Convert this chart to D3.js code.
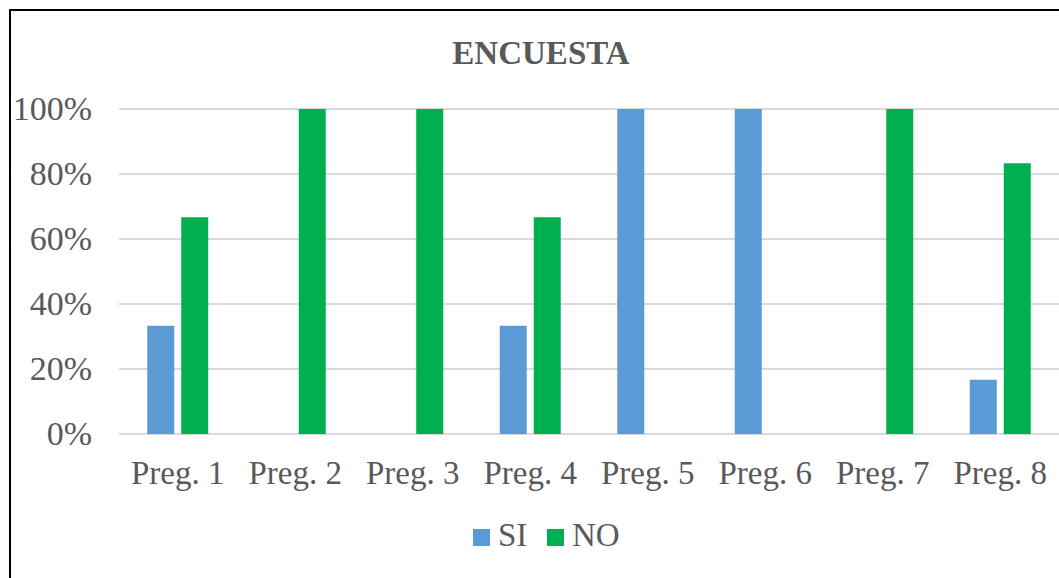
<!DOCTYPE html>
<html>
<head>
<meta charset="utf-8">
<script src="https://cdn.jsdelivr.net/npm/d3@7"></script>
<style>
body { margin: 0; background: #fff; }
svg { display: block; }
</style>
</head>
<body>
<script>
// datos de la encuesta
var preguntas = ["Preg. 1", "Preg. 2", "Preg. 3", "Preg. 4", "Preg. 5", "Preg. 6", "Preg. 7", "Preg. 8"];
var si = [0.333, 0, 0, 0.333, 1, 1, 0, 0.167];
var no = [0.667, 1, 1, 0.667, 0, 0, 1, 0.833];
var series = ["SI", "NO"];
var colores = ["#5b9bd5", "#00b050"];
var ticks = [0, 0.2, 0.4, 0.6, 0.8, 1];

var width = 1059, height = 578;
var fuente = "'Liberation Serif', 'Times New Roman', serif";

var svg = d3.select("body").append("svg")
	.attr("width", width)
	.attr("height", height)

// marco del grafico
svg.append("rect")
	.attr("x", 10).attr("y", 10)
	.attr("width", 1100).attr("height", 640)
	.attr("fill", "#fff")
	.attr("stroke", "#000")
	.attr("stroke-width", 2)

var x = d3.scaleBand()
	.domain(preguntas)
	.range([119, 1059])

var y = d3.scaleLinear()
	.domain([0, 1])
	.range([434, 109])

// lineas de cuadricula
svg.append("g")
	.selectAll("line")
	.data(ticks)
	.join("line")
	.attr("x1", 119)
	.attr("x2", 1061)
	.attr("y1", function(d){ return y(d); })
	.attr("y2", function(d){ return y(d); })
	.attr("stroke", "#d9d9d9")
	.attr("stroke-width", 2)

// etiquetas eje y
svg.append("g")
	.selectAll("text")
	.data(ticks)
	.join("text")
	.attr("x", 92)
	.attr("y", function(d){ return y(d) + 11; })
	.attr("text-anchor", "end")
	.attr("font-family", fuente)
	.attr("font-size", 34)
	.attr("fill", "#595959")
	.text(function(d){ return d3.format(".0%")(d); })

var barW = 27, gap = 7;
var sub = d3.scaleOrdinal().domain(series).range([-(barW + gap / 2), gap / 2]);

var datos = [];
preguntas.forEach(function(p, i){
	datos.push({ p: p, s: "SI", v: si[i] });
	datos.push({ p: p, s: "NO", v: no[i] });
});

svg.append("g")
	.selectAll("rect")
	.data(datos.filter(function(d){ return d.v > 0; }))
	.join("rect")
	.attr("x", function(d){ return x(d.p) + x.bandwidth() / 2 + sub(d.s); })
	.attr("y", function(d){ return y(d.v); })
	.attr("width", barW)
	.attr("height", function(d){ return y(0) - y(d.v); })
	.attr("fill", function(d){ return colores[series.indexOf(d.s)]; })

// etiquetas eje x
svg.append("g")
	.selectAll("text")
	.data(preguntas)
	.join("text")
	.attr("x", function(d){ return x(d) + x.bandwidth() / 2; })
	.attr("y", 484)
	.attr("text-anchor", "middle")
	.attr("font-family", fuente)
	.attr("font-size", 33)
	.attr("fill", "#595959")
	.text(function(d){ return d; })

// titulo
svg.append("text")
	.attr("x", 541)
	.attr("y", 64)
	.attr("text-anchor", "middle")
	.attr("font-family", fuente)
	.attr("font-size", 33)
	.attr("font-weight", "bold")
	.attr("fill", "#595959")
	.text("ENCUESTA")

// leyenda
var leyX = [473, 547];
var ley = svg.append("g")
	.selectAll("g")
	.data(series)
	.join("g")
	.attr("transform", function(d, i){ return "translate(" + leyX[i] + ",529)"; })

ley.append("rect")
	.attr("width", 17).attr("height", 17)
	.attr("fill", function(d, i){ return colores[i]; })

ley.append("text")
	.attr("x", 25)
	.attr("y", 17)
	.attr("font-family", fuente)
	.attr("font-size", 33)
	.attr("fill", "#595959")
	.text(function(d){ return d; })
</script>
</body>
</html>
